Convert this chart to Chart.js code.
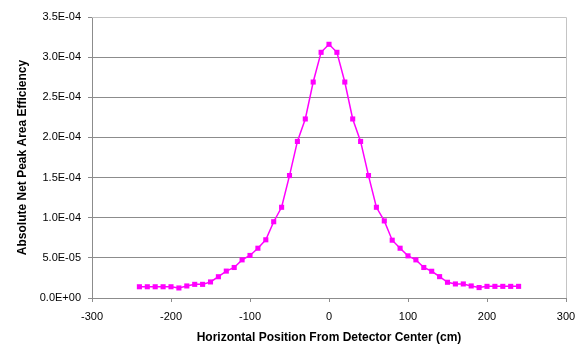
<!DOCTYPE html>
<html>
<head>
<meta charset="utf-8">
<script src="https://cdn.jsdelivr.net/npm/chart.js@4/dist/chart.umd.min.js"></script>
<style>
  html, body { margin: 0; padding: 0; background: #ffffff; }
  #wrap { width: 579px; height: 345px; position: relative; }
</style>
</head>
<body>
<div id="wrap"><canvas id="c" width="579" height="345"></canvas></div>
<script>
// Horizontal position (cm)
const positions = [-240,-230,-220,-210,-200,-190,-180,-170,-160,-150,-140,-130,-120,-110,-100,-90,-80,-70,-60,-50,-40,-30,-20,-10,
  0,10,20,30,40,50,60,70,80,90,100,110,120,130,140,150,160,170,180,190,200,210,220,230,240];
// Absolute net peak area efficiency
const efficiency = [1.40e-5,1.40e-5,1.40e-5,1.40e-5,1.40e-5,1.25e-5,1.50e-5,1.70e-5,1.70e-5,2.00e-5,2.65e-5,3.35e-5,3.80e-5,4.75e-5,5.30e-5,6.20e-5,7.25e-5,9.50e-5,1.13e-4,1.525e-4,1.95e-4,2.23e-4,2.69e-4,3.06e-4,
  3.16e-4,3.06e-4,2.69e-4,2.23e-4,1.95e-4,1.525e-4,1.13e-4,9.60e-5,7.20e-5,6.20e-5,5.25e-5,4.75e-5,3.80e-5,3.33e-5,2.66e-5,1.96e-5,1.75e-5,1.75e-5,1.50e-5,1.30e-5,1.45e-5,1.45e-5,1.45e-5,1.45e-5,1.45e-5];
const yTickLabels = ['0.0E+00','5.0E-05','1.0E-04','1.5E-04','2.0E-04','2.5E-04','3.0E-04','3.5E-04'];
const xTickLabels = ['-300','-200','-100','0','100','200','300'];
const xTitle = 'Horizontal Position From Detector Center (cm)';
const yTitle = 'Absolute Net Peak Area Efficiency';

const points = positions.map((x, i) => ({ x: x, y: efficiency[i] }));

const plotBorder = {
  id: 'plotBorder',
  afterDatasetsDraw(chart) {
    const { ctx, chartArea: a } = chart;
    ctx.save();
    ctx.strokeStyle = '#c4c4c4';
    ctx.lineWidth = 1;
    ctx.beginPath();
    ctx.moveTo(a.left, a.top + 0.5);
    ctx.lineTo(a.right + 0.5, a.top + 0.5);
    ctx.lineTo(a.right + 0.5, a.bottom);
    ctx.stroke();
    ctx.restore();
  }
};

new Chart(document.getElementById('c'), {
  type: 'scatter',
  data: {
    datasets: [{
      data: points,
      showLine: true,
      borderColor: '#ff00ff',
      backgroundColor: '#ff00ff',
      borderWidth: 1.5,
      pointStyle: 'rect',
      pointRadius: 3.6,
      pointHoverRadius: 3.6,
      pointBorderWidth: 0,
      tension: 0
    }]
  },
  options: {
    responsive: false,
    animation: false,
    devicePixelRatio: 1,
    layout: { padding: { left: 0, right: 13, top: 17, bottom: 0 } },
    plugins: { legend: { display: false }, tooltip: { enabled: false } },
    scales: {
      x: {
        type: 'linear',
        min: -300, max: 300,
        ticks: {
          stepSize: 100,
          color: '#000000',
          font: { family: 'Liberation Sans, Arial, sans-serif', size: 11 },
          padding: 8,
          maxRotation: 0,
          callback: (v, i) => xTickLabels[i]
        },
        grid: { drawOnChartArea: false, drawTicks: true, tickLength: 4, color: '#8c8c8c' },
        border: { display: true, color: '#8c8c8c', width: 1 },
        title: {
          display: true, text: xTitle, color: '#000000',
          font: { family: 'Liberation Sans, Arial, sans-serif', size: 12, weight: 'bold' },
          padding: { top: 0, bottom: 0 }
        },
        afterFit: (s) => { s.height = 47; s.paddingLeft = 0; s.paddingRight = 0; }
      },
      y: {
        type: 'linear',
        min: 0, max: 3.5e-4,
        ticks: {
          count: 8,
          color: '#000000',
          font: { family: 'Liberation Sans, Arial, sans-serif', size: 11 },
          padding: 7,
          callback: (v, i) => yTickLabels[i]
        },
        grid: { color: '#8c8c8c', lineWidth: 1, tickLength: 4, drawTicks: true },
        border: { display: true, color: '#8c8c8c', width: 1 },
        title: {
          display: true, text: yTitle, color: '#000000',
          font: { family: 'Liberation Sans, Arial, sans-serif', size: 12, weight: 'bold' },
          padding: { top: 15, bottom: 0 }
        },
        afterFit: (s) => { s.width = 92; s.paddingTop = 0; s.paddingBottom = 0; }
      }
    }
  },
  plugins: [plotBorder]
});
</script>
</body>
</html>
